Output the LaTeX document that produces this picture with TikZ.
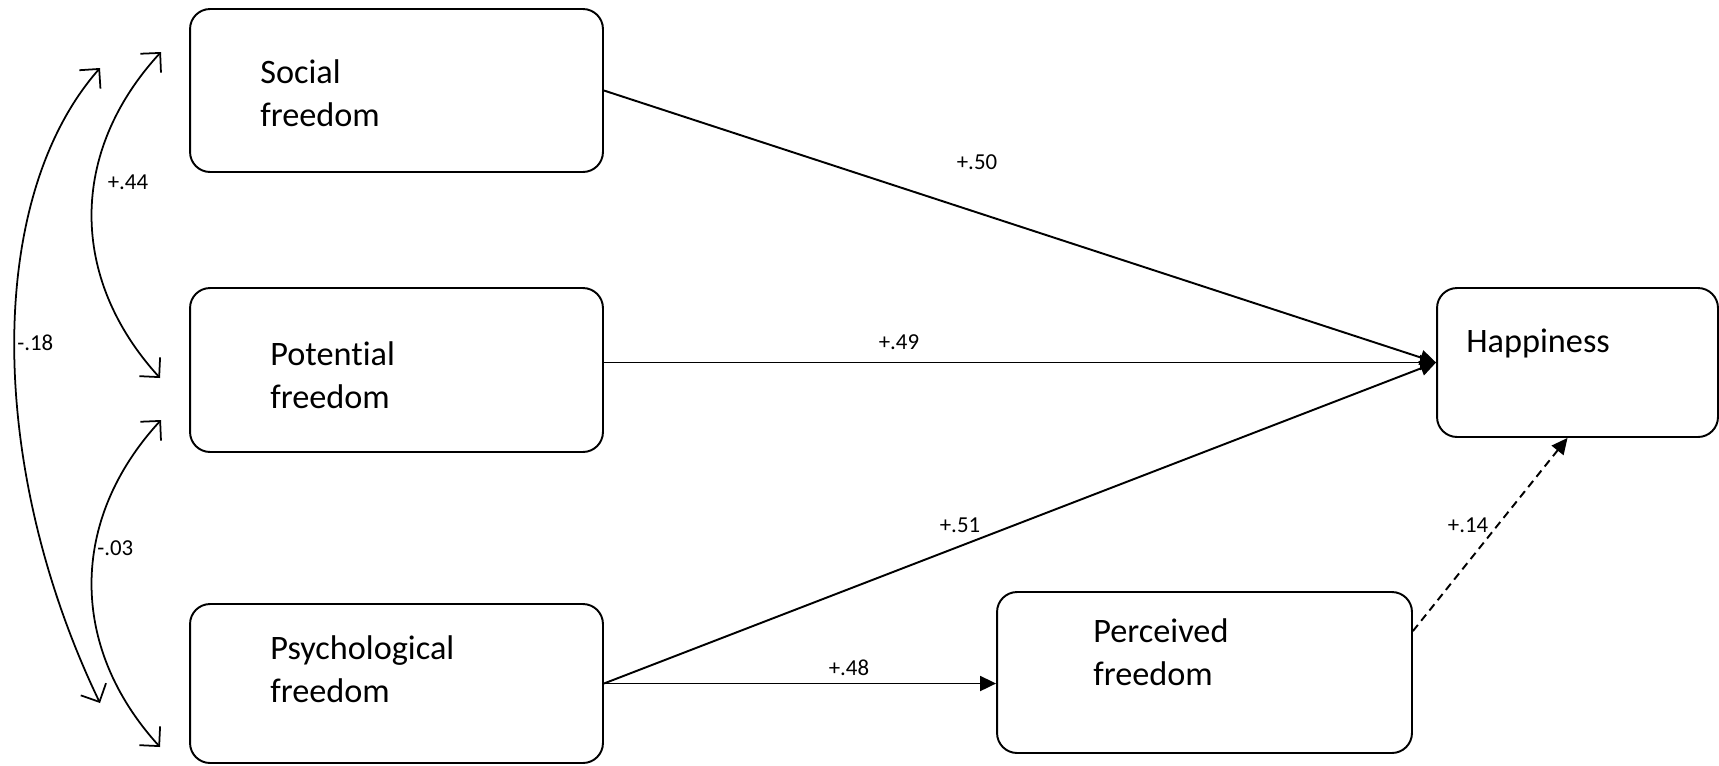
\documentclass[tikz,border=0pt]{standalone}
\usepackage{fontspec}
\setmainfont{Carlito}[Ligatures=NoCommon]
\usetikzlibrary{arrows.meta,calc}
\tikzset{
  box/.style={draw, line width=1.1pt, rounded corners=0.4cm, minimum width=8.26cm, minimum height=3.26cm, inner sep=0pt},
  boxtext/.style={anchor=west, align=left, inner sep=0pt, font=\fontsize{19.5}{24.5}\selectfont},
  coef/.style={inner sep=0pt, font=\fontsize{13}{15}\selectfont},
  effect/.style={line width=1.1pt, -{Triangle[length=0.32cm,width=0.3cm]}},
  corr/.style={line width=1pt, {Straight Barb[length=0.28cm,width=0.56cm]}-{Straight Barb[length=0.28cm,width=0.56cm]}},
}

\begin{document}
\begin{tikzpicture}[x=0.02cm, y=-0.02cm]
  \useasboundingbox (0,0) rectangle (1719,765);
  % boxes
  \node[box] (social) at (396.5,90.5) {};
  \node[box, minimum height=3.28cm] (potential) at (396.5,370) {};
  \node[box, minimum height=3.18cm] (psych) at (396.5,683.5) {};
  \node[box, minimum width=8.3cm, minimum height=3.22cm] (perceived) at (1204.5,672.5) {};
  \node[box, minimum width=5.62cm, minimum height=2.98cm] (happy) at (1577.5,362.5) {};
  \node[boxtext] (socialtxt) at (260,93.5) {Social\\freedom};
  \node[boxtext] (potentialtxt) at (270,375) {Potential\\freedom};
  \node[boxtext] (psychtxt) at (270,669) {Psychological\\freedom};
  \node[boxtext] (perceivedtxt) at (1093,652.5) {Perceived\\freedom};
  \node[boxtext] (happytxt) at (1466,343) {Happiness};
  % paths to happiness
  \draw[effect] (social.east) -- (happy.west);
  \draw[effect] (potential.east |- happy.west) -- (happy.west);
  \draw[effect] (psych.east) -- (happy.west);
  \draw[effect] (psych.east) -- (psych.east -| perceived.west);
  \draw[effect, dash pattern=on 4.5pt off 3pt] ($(perceived.north east)+(0,40)$) -- ($(happy.south)+(-10,0)$);
  \node[coef] (c50) at (977,162) {+.50};
  \node[coef] (c49) at (899,342) {+.49};
  \node[coef] (c51) at (960,525) {+.51};
  \node[coef] (c48) at (849,668) {+.48};
  \node[coef] (c14) at (1468,525) {+.14};
  % correlations
  \coordinate (a44) at (161,52);
  \coordinate (b44) at (160,378);
  \coordinate (a03) at (161,420);
  \coordinate (b03) at (160,747);
  \coordinate (a18) at (100,68);
  \coordinate (b18) at (100,703);
  \draw[corr] (a44) .. controls (69,152) and (69,278) .. (b44);
  \draw[corr] (a03) .. controls (69,520) and (69,647) .. (b03);
  \draw[corr] (a18) .. controls (-16,200) and (-12,470) .. (b18);
  \node[coef] (c44) at (128,182) {+.44};
  \node[coef, anchor=west] (c18) at (17,343) {-.18};
  \node[coef, anchor=west] (c03) at (97,548) {-.03};
\end{tikzpicture}
\end{document}
